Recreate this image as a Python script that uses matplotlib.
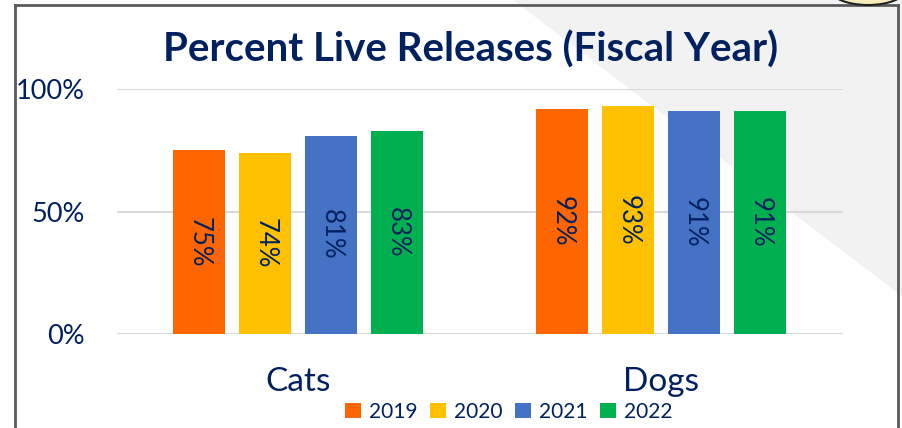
import numpy as np
import matplotlib.pyplot as plt
from matplotlib.patches import Polygon, Ellipse, Patch
from matplotlib.lines import Line2D

categories = ['Cats', 'Dogs']
years = ['2019', '2020', '2021', '2022']
values = {
    '2019': [75, 92],
    '2020': [74, 93],
    '2021': [81, 91],
    '2022': [83, 91],
}
colors = ['#ff6600', '#ffc000', '#4472c4', '#00b050']
y_ticks = [0, 50, 100]
y_tick_labels = ['0%', '50%', '100%']

navy = '#002060'
plt.rcParams['font.family'] = ['Lato', 'DejaVu Sans']

fig = plt.figure(figsize=(9.03, 4.28), dpi=100)
fig.patch.set_facecolor('white')

W, H = 903, 428


def fx(px):
    return px / W


def fy(py):
    return 1 - py / H


# grey slide background shape in the top right corner
fig.patches.append(Polygon([(fx(513), fy(0)), (1, fy(0)), (1, fy(297))],
                           closed=True, transform=fig.transFigure,
                           facecolor='#f2f2f2', edgecolor='none', zorder=-2))
fig.patches.append(Ellipse((fx(868), fy(-10)), fx(74), 30 / H,
                           transform=fig.transFigure, facecolor='#f9ecbc',
                           edgecolor='#222222', lw=1.5, zorder=-1))

# frame of the chart box
frame_kw = dict(transform=fig.transFigure, color='#5a5a5a', lw=2, zorder=-1)
fig.lines.append(Line2D([fx(15), fx(15)], [0, fy(5)], **frame_kw))
fig.lines.append(Line2D([fx(15), fx(898)], [fy(5), fy(5)], **frame_kw))
fig.lines.append(Line2D([fx(898), fx(898)], [0, fy(5)], **frame_kw))

ax = fig.add_axes([fx(117), fy(334), fx(843) - fx(117), (334 - 89) / H])
ax.patch.set_visible(False)

x = np.arange(len(categories))
bar_w = 52 / 363
step = 66 / 363
for i, (yr, c) in enumerate(zip(years, colors)):
    pos = x + (i - 1.5) * step
    bars = ax.bar(pos, values[yr], width=bar_w, color=c, zorder=3, label=yr)
    for b, v in zip(bars, values[yr]):
        ax.text(b.get_x() + b.get_width() / 2, v / 2, f'{v}%',
                rotation=-90, ha='center', va='center', fontsize=18.5,
                color=navy, zorder=4)

ax.set_xlim(-0.5, 1.5)
ax.set_ylim(0, 100)
ax.set_yticks(y_ticks)
ax.set_yticklabels(y_tick_labels, fontsize=19.5, color=navy)
ax.tick_params(length=0)
ax.tick_params(axis='y', pad=23)
ax.set_xticks(x)
ax.set_xticklabels(categories, fontsize=24, color=navy)
ax.tick_params(axis='x', pad=24)
ax.yaxis.grid(True, color='#d9d9d9', lw=1.5, zorder=0)
ax.set_axisbelow(True)
for s in ax.spines.values():
    s.set_visible(False)

fig.text(fx(471), fy(50), 'Percent Live Releases (Fiscal Year)',
         ha='center', va='center', fontsize=29, fontweight='bold', color=navy)

handles = [Patch(facecolor=c, edgecolor='none') for c in colors]
leg = fig.legend(handles, years, loc='center', bbox_to_anchor=(fx(509), fy(412)),
                 ncol=4, frameon=False, fontsize=15, handlelength=0.75,
                 handleheight=0.75, handletextpad=0.4, columnspacing=0.6)
for t in leg.get_texts():
    t.set_color(navy)

fig.savefig('out.png', dpi=100)
